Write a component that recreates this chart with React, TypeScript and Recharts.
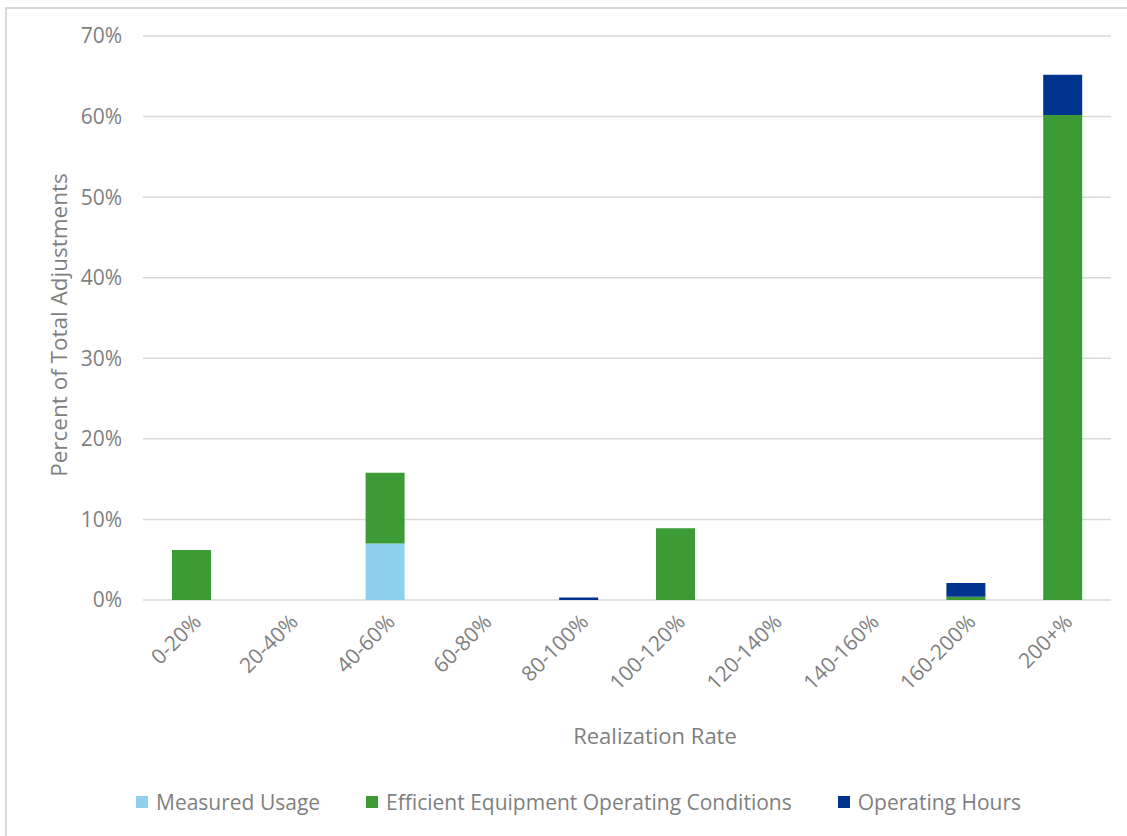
import React from 'react'
import {
  BarChart, Bar, XAxis, YAxis, CartesianGrid, Label
} from 'recharts'

const categories = [
  '0-20%', '20-40%', '40-60%', '60-80%', '80-100%',
  '100-120%', '120-140%', '140-160%', '160-200%', '200+%',
]
const measuredUsage = [0, 0, 7.0, 0, 0, 0, 0, 0, 0, 0]
const efficientEquipment = [6.2, 0, 8.8, 0, 0, 8.9, 0, 0, 0.4, 60.2]
const operatingHours = [0, 0, 0, 0, 0.3, 0, 0, 0, 1.7, 5.0]
const yTicks = [0, 10, 20, 30, 40, 50, 60, 70]

const SERIES = [
  { key: 'measured', name: 'Measured Usage', color: '#8FD0EE' },
  { key: 'efficient', name: 'Efficient Equipment Operating Conditions', color: '#3D9B35' },
  { key: 'hours', name: 'Operating Hours', color: '#00338D' },
]

const data = categories.map((name, i) => ({
  name,
  measured: measuredUsage[i],
  efficient: efficientEquipment[i],
  hours: operatingHours[i],
}))

const FONT = '"Open Sans", sans-serif'
const GREY = '#7f7f7f'

function RotatedTick(props: any) {
  const { x, y, payload } = props
  return (
    <g transform={`translate(${x + 6},${y + 10})`}>
      <text
        x={0}
        y={0}
        dy="0.35em"
        textAnchor="end"
        transform="rotate(-45)"
        fontSize={21}
        fontFamily={FONT}
        fill={GREY}
      >
        {payload.value}
      </text>
    </g>
  )
}

export default function App() {
  return (
    <div style={{ position: 'absolute', left: 0, top: 0, width: 1127, height: 836, overflow: 'hidden', background: '#fff' }}>
      <div
        style={{
          position: 'absolute', left: 5, top: 7, width: 1140, height: 840,
          border: '2px solid #d9d9d9', boxSizing: 'border-box',
        }}
      />
      <div style={{ position: 'absolute', left: 0, top: 0 }}>
        <BarChart
          width={1127}
          height={836}
          data={data}
          margin={{ top: 36, right: 16, left: 0, bottom: 0 }}
          barSize={39}
        >
          <CartesianGrid vertical={false} stroke="#d9d9d9" strokeWidth={1.5} />
          <XAxis
            dataKey="name"
            height={236}
            axisLine={false}
            tickLine={false}
            interval={0}
            tick={<RotatedTick />}
          >
            <Label
              value="Realization Rate"
              position="insideTop"
              offset={128}
              dx={28}
              style={{ fontSize: 22, fontFamily: FONT, fill: GREY }}
            />
          </XAxis>
          <YAxis
            width={143}
            domain={[0, 70]}
            ticks={yTicks}
            axisLine={false}
            tickLine={false}
            tickSize={8}
            tickMargin={13}
            tickFormatter={(v: number) => `${v}%`}
            tick={{ fontSize: 21, fontFamily: FONT, fill: GREY }}
          >
            <Label
              content={({ viewBox }: any) => {
                const cx = 58
                const cy = viewBox.y + viewBox.height / 2 + 7
                return (
                  <text
                    x={cx}
                    y={cy}
                    transform={`rotate(-90 ${cx} ${cy})`}
                    textAnchor="middle"
                    dominantBaseline="central"
                    fontSize={22.5}
                    fontFamily={FONT}
                    fill={GREY}
                  >
                    Percent of Total Adjustments
                  </text>
                )
              }}
            />
          </YAxis>
          {SERIES.map((s) => (
            <Bar
              key={s.key}
              dataKey={s.key}
              name={s.name}
              stackId="a"
              fill={s.color}
              isAnimationActive={false}
            />
          ))}
        </BarChart>
      </div>
      <div
        style={{
          position: 'absolute', left: 136, top: 788, display: 'flex', gap: 46,
          alignItems: 'center', fontFamily: FONT, fontSize: 21, color: GREY, whiteSpace: 'nowrap',
        }}
      >
        {SERIES.map((s) => (
          <div key={s.key} style={{ display: 'flex', alignItems: 'center' }}>
            <span style={{ width: 12, height: 12, background: s.color, display: 'inline-block', marginRight: 8 }} />
            <span>{s.name}</span>
          </div>
        ))}
      </div>
    </div>
  )
}
